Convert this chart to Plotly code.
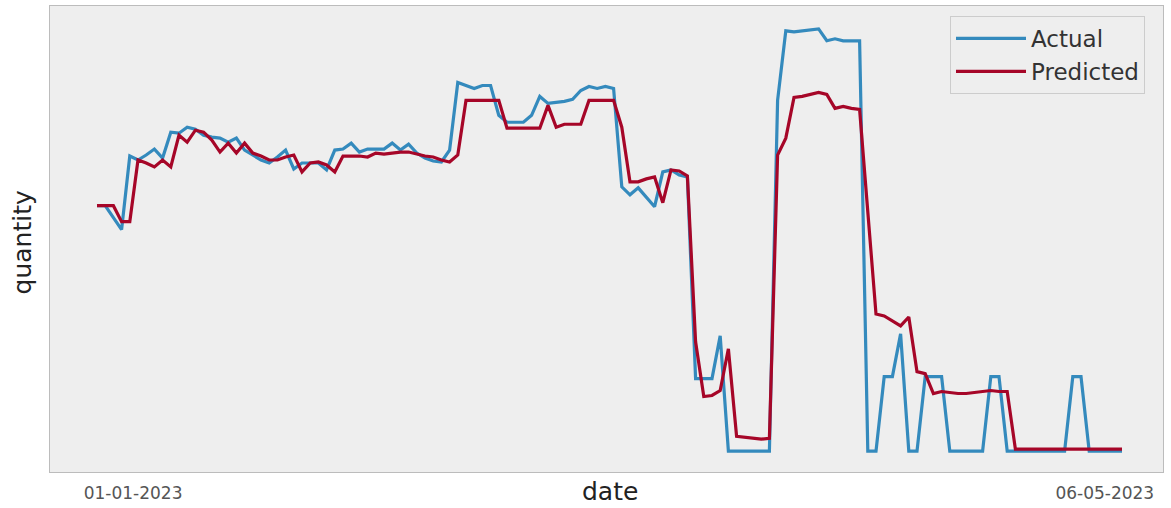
import pandas as pd
import plotly.graph_objects as go

# Daily series, 01-01-2023 through 06-05-2023
start_date = "2023-01-01"
n_days = 126
dates = pd.date_range(start_date, periods=n_days, freq="D")

actual = [
    247, 247, 235, 223, 297, 293, 298, 304, 295, 321,
    320, 326, 324, 318, 316, 315, 311, 315, 303, 298,
    293, 290, 296, 303, 284, 290, 290, 290, 283, 303,
    304, 310, 301, 304, 304, 304, 310, 303, 309, 300,
    295, 292, 291, 303, 371, 368, 365, 368, 368, 338,
    331, 331, 331, 338, 357, 350, 351, 352, 354, 363,
    367, 365, 367, 365, 266, 258, 265, 256, 246, 281,
    283, 278, 276, 73, 73, 73, 116, 0, 0, 0,
    0, 0, 0, 353, 423, 422, 423, 424, 425, 413,
    415, 413, 413, 413, 0, 0, 75, 75, 118, 0,
    0, 75, 75, 75, 0, 0, 0, 0, 0, 75,
    75, 0, 0, 0, 0, 0, 0, 0, 0, 75,
    75, 0, 0, 0, 0, 0,
]

predicted = [
    247, 247, 247, 231, 231, 293, 290, 286, 293, 286,
    318, 311, 323, 321, 313, 301, 310, 300, 310, 300,
    297, 293, 293, 296, 298, 281, 290, 291, 288, 281,
    297, 297, 297, 296, 300, 299, 300, 301, 301, 299,
    297, 296, 293, 291, 298, 353, 353, 353, 353, 353,
    325, 325, 325, 325, 325, 348, 326, 329, 329, 329,
    353, 353, 353, 353, 326, 271, 271, 274, 276, 250,
    283, 282, 277, 110, 55, 56, 61, 103, 15, 14,
    13, 12, 13, 298, 315, 356, 357, 359, 361, 359,
    345, 347, 345, 344, 241, 138, 136, 131, 126, 135,
    80, 78, 58, 60, 59, 58, 58, 59, 60, 61,
    60, 60, 2, 2, 2, 2, 2, 2, 2, 2,
    2, 2, 2, 2, 2, 2,
]

tick_labels = ["01-01-2023", "06-05-2023"]

BLUE = "#348ABD"
RED = "#A60628"
FONT = "DejaVu Sans"

fig = go.Figure()
fig.add_trace(go.Scatter(x=dates, y=actual, mode="lines", name="Actual",
                         line=dict(color=BLUE, width=3.2)))
fig.add_trace(go.Scatter(x=dates, y=predicted, mode="lines", name="Predicted",
                         line=dict(color=RED, width=3.2)))

day = pd.Timedelta(days=1)
x_lo = dates[0] - 5.73 * day
x_hi = dates[0] + 130.0 * day
tick_pos = [dates[0] + 4.4 * day, dates[-1] - 2.1 * day]

fig.update_layout(
    width=1171, height=508,
    margin=dict(l=50, r=8, t=5, b=34),
    paper_bgcolor="white",
    plot_bgcolor="#eeeeee",
    font=dict(family=FONT, color="#333333"),
    showlegend=True,
    legend=dict(
        x=(950 - 50) / 1113, y=(474 - 15) / 469,
        xanchor="left", yanchor="top",
        bgcolor="#eeeeee", bordercolor="#cccccc", borderwidth=1,
        itemwidth=70,
        font=dict(family=FONT, size=23, color="#333333"),
    ),
    xaxis=dict(
        range=[x_lo, x_hi],
        tickvals=tick_pos, ticktext=tick_labels,
        ticks="", showgrid=False, zeroline=False,
        showline=True, mirror=True, linecolor="#bcbcbc", linewidth=1,
        tickfont=dict(family=FONT, size=17, color="#555555"),
        ticklabelstandoff=6,
    ),
    yaxis=dict(
        range=[-21, 448],
        showticklabels=False, ticks="", showgrid=False, zeroline=False,
        showline=True, mirror=True, linecolor="#bcbcbc", linewidth=1,
    ),
    annotations=[
        dict(text="date", x=(610 - 50) / 1113, y=(474 - 494) / 469,
             xref="paper", yref="paper", xanchor="center", yanchor="middle",
             showarrow=False, font=dict(family=FONT, size=25, color="#222222")),
        dict(text="quantity", x=(22 - 50) / 1113, y=(474 - 243) / 469,
             xref="paper", yref="paper", xanchor="center", yanchor="middle",
             textangle=-90, showarrow=False,
             font=dict(family=FONT, size=25, color="#222222")),
    ],
)

fig.write_html("out.html")
